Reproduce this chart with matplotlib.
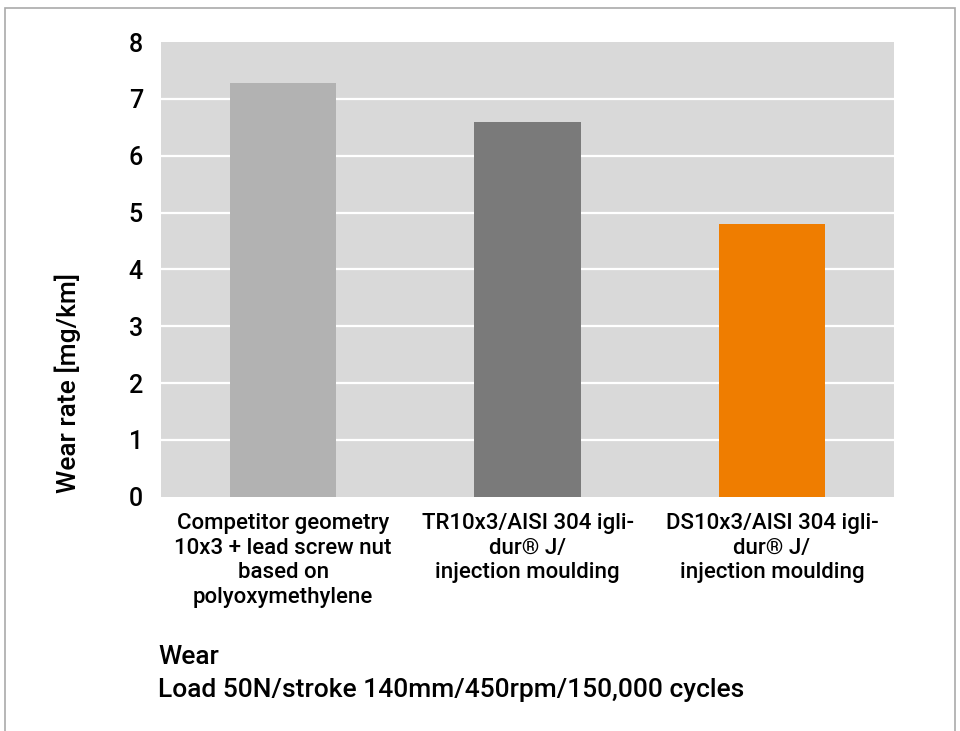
import matplotlib.pyplot as plt
from matplotlib.patches import Rectangle

plt.rcParams["font.family"] = ["Roboto", "DejaVu Sans"]
plt.rcParams["font.weight"] = "medium"

categories = [
    "Competitor geometry\n10x3 + lead screw nut\nbased on\npolyoxymethylene",
    "TR10x3/AISI 304 igli-\ndur® J/\ninjection moulding",
    "DS10x3/AISI 304 igli-\ndur® J/\ninjection moulding",
]
wear_rates = [7.27, 6.6, 4.79]
bar_colors = ["#b2b2b2", "#7a7a7a", "#ef7d00"]
y_ticks = [0, 1, 2, 3, 4, 5, 6, 7, 8]

fig = plt.figure(figsize=(9.6, 7.31), dpi=100)
W, H = 960, 731
ax = fig.add_axes([161 / W, 1 - 496.7 / H, (894 - 161) / W, (496.7 - 42) / H])

ax.set_facecolor("#d9d9d9")
x = range(len(categories))
ax.bar(x, wear_rates, width=0.434, color=bar_colors, zorder=3)
ax.set_xlim(-0.5, 2.5)
ax.set_ylim(0, 8)
ax.set_yticks(y_ticks)
for t in y_ticks[1:-1]:
    ax.axhline(t, color="white", linewidth=1.6, zorder=2)
for s in ax.spines.values():
    s.set_visible(False)
ax.tick_params(axis="both", length=0)
ax.tick_params(axis="y", labelsize=18, pad=13)
ax.set_xticks(list(x))
ax.set_xticklabels(categories, fontsize=16, linespacing=1.22)
ax.tick_params(axis="x", pad=12)

fig.text(68 / W, 1 - 383 / H, "Wear rate [mg/km]", rotation=90,
         ha="center", va="center", fontsize=19)
fig.text(158 / W, 1 - 657 / H, "Wear", ha="left", va="center", fontsize=19)
fig.text(158 / W, 1 - 690 / H, "Load 50N/stroke 140mm/450rpm/150,000 cycles",
         ha="left", va="center", fontsize=19)

# outer frame
frame = Rectangle((5 / W, -0.05), 950 / W, 1 - 8 / H + 0.05,
                  transform=fig.transFigure, fill=False,
                  edgecolor="#aaaaaa", linewidth=1.2, clip_on=False)
fig.patches.append(frame)

fig.savefig("out.png", dpi=100)
